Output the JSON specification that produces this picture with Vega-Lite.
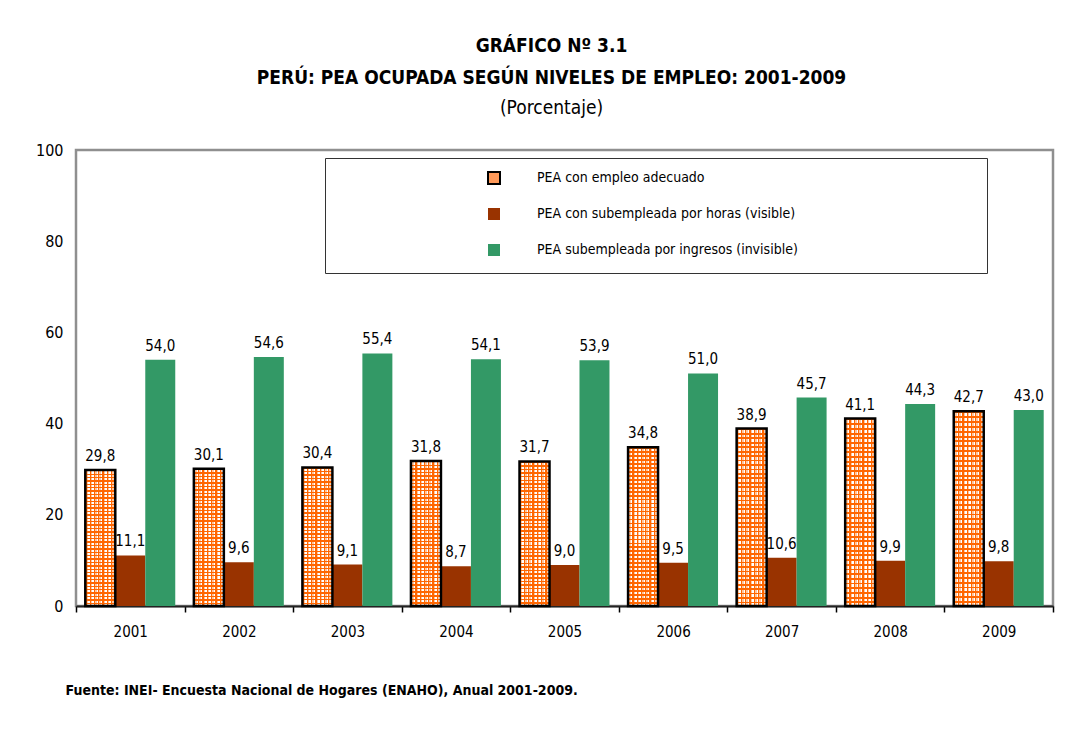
{
  "$schema": "https://vega.github.io/schema/vega-lite/v6.json",
  "width": 977,
  "height": 456,
  "autosize": {"type": "none"},
  "padding": {"left": 76, "top": 150, "right": 22, "bottom": 127},
  "background": "white",
  "config": {
    "font": "Liberation Sans Narrow, DejaVu Sans Condensed, sans-serif",
    "locale": {"number": {"decimal": ",", "thousands": ".", "grouping": [3], "currency": ["", ""]}},
    "view": {"stroke": "#8f8f8f", "strokeWidth": 2.5},
    "axis": {"grid": false}
  },
  "title": {
    "text": ["GRÁFICO Nº 3.1", "PERÚ: PEA OCUPADA SEGÚN NIVELES DE EMPLEO: 2001-2009"],
    "subtitle": "(Porcentaje)",
    "fontSize": 19,
    "fontWeight": "bold",
    "lineHeight": 32,
    "color": "black",
    "subtitleFontSize": 19,
    "subtitleFontWeight": "normal",
    "subtitleColor": "black",
    "subtitlePadding": 11,
    "anchor": "middle",
    "dx": -13,
    "offset": 24
  },
  "data": {
    "values": [
      {"year": "2001", "serie": "PEA con empleo adecuado", "value": 29.8},
      {"year": "2001", "serie": "PEA con subempleada por horas (visible)", "value": 11.1},
      {"year": "2001", "serie": "PEA subempleada por ingresos (invisible)", "value": 54.0},
      {"year": "2002", "serie": "PEA con empleo adecuado", "value": 30.1},
      {"year": "2002", "serie": "PEA con subempleada por horas (visible)", "value": 9.6},
      {"year": "2002", "serie": "PEA subempleada por ingresos (invisible)", "value": 54.6},
      {"year": "2003", "serie": "PEA con empleo adecuado", "value": 30.4},
      {"year": "2003", "serie": "PEA con subempleada por horas (visible)", "value": 9.1},
      {"year": "2003", "serie": "PEA subempleada por ingresos (invisible)", "value": 55.4},
      {"year": "2004", "serie": "PEA con empleo adecuado", "value": 31.8},
      {"year": "2004", "serie": "PEA con subempleada por horas (visible)", "value": 8.7},
      {"year": "2004", "serie": "PEA subempleada por ingresos (invisible)", "value": 54.1},
      {"year": "2005", "serie": "PEA con empleo adecuado", "value": 31.7},
      {"year": "2005", "serie": "PEA con subempleada por horas (visible)", "value": 9.0},
      {"year": "2005", "serie": "PEA subempleada por ingresos (invisible)", "value": 53.9},
      {"year": "2006", "serie": "PEA con empleo adecuado", "value": 34.8},
      {"year": "2006", "serie": "PEA con subempleada por horas (visible)", "value": 9.5},
      {"year": "2006", "serie": "PEA subempleada por ingresos (invisible)", "value": 51.0},
      {"year": "2007", "serie": "PEA con empleo adecuado", "value": 38.9},
      {"year": "2007", "serie": "PEA con subempleada por horas (visible)", "value": 10.6},
      {"year": "2007", "serie": "PEA subempleada por ingresos (invisible)", "value": 45.7},
      {"year": "2008", "serie": "PEA con empleo adecuado", "value": 41.1},
      {"year": "2008", "serie": "PEA con subempleada por horas (visible)", "value": 9.9},
      {"year": "2008", "serie": "PEA subempleada por ingresos (invisible)", "value": 44.3},
      {"year": "2009", "serie": "PEA con empleo adecuado", "value": 42.7},
      {"year": "2009", "serie": "PEA con subempleada por horas (visible)", "value": 9.8},
      {"year": "2009", "serie": "PEA subempleada por ingresos (invisible)", "value": 43.0}
    ]
  },
  "encoding": {
    "x": {
      "field": "year",
      "type": "nominal",
      "scale": {"paddingInner": 0, "paddingOuter": 0},
      "axis": {
        "title": "Fuente: INEI- Encuesta Nacional de Hogares (ENAHO), Anual 2001-2009.",
        "titleFontSize": 14,
        "titleFontWeight": "bold",
        "titleColor": "black",
        "titleAnchor": "start",
        "titleAlign": "left",
        "titleBaseline": "middle",
        "titleX": -11,
        "titleY": 84,
        "labelAngle": 0,
        "labelFontSize": 15,
        "labelColor": "black",
        "labelPadding": 12,
        "tickBand": "extent",
        "tickSize": 6,
        "tickColor": "black",
        "tickWidth": 1.5,
        "domainColor": "#222222",
        "domainWidth": 2
      }
    },
    "xOffset": {
      "field": "serie",
      "type": "nominal",
      "scale": {
        "domain": ["PEA con empleo adecuado", "PEA con subempleada por horas (visible)", "PEA subempleada por ingresos (invisible)"],
        "paddingInner": 0,
        "paddingOuter": 0.31
      }
    },
    "y": {
      "field": "value",
      "type": "quantitative",
      "scale": {"domain": [0, 100]},
      "axis": {
        "title": null,
        "values": [0, 20, 40, 60, 80, 100],
        "ticks": false,
        "domain": false,
        "labelFontSize": 16,
        "labelColor": "black",
        "labelPadding": 13
      }
    }
  },
  "layer": [
    {
      "mark": {"type": "bar"},
      "encoding": {
        "color": {
          "field": "serie",
          "type": "nominal",
          "scale": {
            "domain": ["PEA con empleo adecuado", "PEA con subempleada por horas (visible)", "PEA subempleada por ingresos (invisible)"],
            "range": ["#FF9A5A", "#993300", "#339966"]
          },
          "legend": {
            "orient": "none",
            "legendX": 249,
            "legendY": 8,
            "title": "\u00a0",
            "titleOrient": "right",
            "titleFontSize": 1,
            "titlePadding": 176,
            "padding": 13,
            "strokeColor": "#333333",
            "fillColor": "white",
            "symbolType": "square",
            "symbolSize": 144,
            "symbolOffset": 149,
            "labelFontSize": 14,
            "labelColor": "black",
            "labelOffset": 36,
            "labelLimit": 2000,
            "rowPadding": 16,
            "encode": {
              "symbols": {
                "update": {
                  "stroke": {"signal": "datum.value === 'PEA con empleo adecuado' ? 'black' : 'transparent'"},
                  "strokeWidth": {"value": 2}
                }
              }
            }
          }
        }
      }
    },
    {
      "transform": [{"filter": "datum.serie === 'PEA con empleo adecuado'"}],
      "mark": {
        "type": "bar",
        "fill": {
          "gradient": "linear", "x1": 0, "y1": 0, "x2": 1, "y2": 0,
          "stops": [
            {"offset": 0, "color": "#FF6600"}, {"offset": 0.0429, "color": "#FF6600"}, {"offset": 0.0429, "color": "#FDC6A0"}, {"offset": 0.0929, "color": "#FDC6A0"}, {"offset": 0.0929, "color": "#FFFFFF"}, {"offset": 0.1429, "color": "#FFFFFF"},
            {"offset": 0.1429, "color": "#FF6600"}, {"offset": 0.1857, "color": "#FF6600"}, {"offset": 0.1857, "color": "#FDC6A0"}, {"offset": 0.2357, "color": "#FDC6A0"}, {"offset": 0.2357, "color": "#FFFFFF"}, {"offset": 0.2857, "color": "#FFFFFF"},
            {"offset": 0.2857, "color": "#FF6600"}, {"offset": 0.3286, "color": "#FF6600"}, {"offset": 0.3286, "color": "#FDC6A0"}, {"offset": 0.3786, "color": "#FDC6A0"}, {"offset": 0.3786, "color": "#FFFFFF"}, {"offset": 0.4286, "color": "#FFFFFF"},
            {"offset": 0.4286, "color": "#FF6600"}, {"offset": 0.4714, "color": "#FF6600"}, {"offset": 0.4714, "color": "#FDC6A0"}, {"offset": 0.5214, "color": "#FDC6A0"}, {"offset": 0.5214, "color": "#FFFFFF"}, {"offset": 0.5714, "color": "#FFFFFF"},
            {"offset": 0.5714, "color": "#FF6600"}, {"offset": 0.6143, "color": "#FF6600"}, {"offset": 0.6143, "color": "#FDC6A0"}, {"offset": 0.6643, "color": "#FDC6A0"}, {"offset": 0.6643, "color": "#FFFFFF"}, {"offset": 0.7143, "color": "#FFFFFF"},
            {"offset": 0.7143, "color": "#FF6600"}, {"offset": 0.7571, "color": "#FF6600"}, {"offset": 0.7571, "color": "#FDC6A0"}, {"offset": 0.8071, "color": "#FDC6A0"}, {"offset": 0.8071, "color": "#FFFFFF"}, {"offset": 0.8571, "color": "#FFFFFF"},
            {"offset": 0.8571, "color": "#FF6600"}, {"offset": 0.9, "color": "#FF6600"}, {"offset": 0.9, "color": "#FDC6A0"}, {"offset": 0.95, "color": "#FDC6A0"}, {"offset": 0.95, "color": "#FFFFFF"}, {"offset": 1, "color": "#FFFFFF"}
          ]
        }
      }
    },
    {
      "transform": [{"filter": "datum.serie === 'PEA con empleo adecuado'"}],
      "mark": {
        "type": "bar",
        "stroke": "black",
        "strokeWidth": 2.5,
        "fill": {
          "gradient": "linear", "x1": 0, "y1": 0, "x2": 0, "y2": 1,
          "stops": [
            {"offset": 0, "color": "#FF6600"}, {"offset": 0.01, "color": "#FF6600"}, {"offset": 0.01, "color": "rgba(255,255,255,0)"}, {"offset": 0.025, "color": "rgba(255,255,255,0)"},
            {"offset": 0.025, "color": "#FF6600"}, {"offset": 0.035, "color": "#FF6600"}, {"offset": 0.035, "color": "rgba(255,255,255,0)"}, {"offset": 0.05, "color": "rgba(255,255,255,0)"},
            {"offset": 0.05, "color": "#FF6600"}, {"offset": 0.06, "color": "#FF6600"}, {"offset": 0.06, "color": "rgba(255,255,255,0)"}, {"offset": 0.075, "color": "rgba(255,255,255,0)"},
            {"offset": 0.075, "color": "#FF6600"}, {"offset": 0.085, "color": "#FF6600"}, {"offset": 0.085, "color": "rgba(255,255,255,0)"}, {"offset": 0.1, "color": "rgba(255,255,255,0)"},
            {"offset": 0.1, "color": "#FF6600"}, {"offset": 0.11, "color": "#FF6600"}, {"offset": 0.11, "color": "rgba(255,255,255,0)"}, {"offset": 0.125, "color": "rgba(255,255,255,0)"},
            {"offset": 0.125, "color": "#FF6600"}, {"offset": 0.135, "color": "#FF6600"}, {"offset": 0.135, "color": "rgba(255,255,255,0)"}, {"offset": 0.15, "color": "rgba(255,255,255,0)"},
            {"offset": 0.15, "color": "#FF6600"}, {"offset": 0.16, "color": "#FF6600"}, {"offset": 0.16, "color": "rgba(255,255,255,0)"}, {"offset": 0.175, "color": "rgba(255,255,255,0)"},
            {"offset": 0.175, "color": "#FF6600"}, {"offset": 0.185, "color": "#FF6600"}, {"offset": 0.185, "color": "rgba(255,255,255,0)"}, {"offset": 0.2, "color": "rgba(255,255,255,0)"},
            {"offset": 0.2, "color": "#FF6600"}, {"offset": 0.21, "color": "#FF6600"}, {"offset": 0.21, "color": "rgba(255,255,255,0)"}, {"offset": 0.225, "color": "rgba(255,255,255,0)"},
            {"offset": 0.225, "color": "#FF6600"}, {"offset": 0.235, "color": "#FF6600"}, {"offset": 0.235, "color": "rgba(255,255,255,0)"}, {"offset": 0.25, "color": "rgba(255,255,255,0)"},
            {"offset": 0.25, "color": "#FF6600"}, {"offset": 0.26, "color": "#FF6600"}, {"offset": 0.26, "color": "rgba(255,255,255,0)"}, {"offset": 0.275, "color": "rgba(255,255,255,0)"},
            {"offset": 0.275, "color": "#FF6600"}, {"offset": 0.285, "color": "#FF6600"}, {"offset": 0.285, "color": "rgba(255,255,255,0)"}, {"offset": 0.3, "color": "rgba(255,255,255,0)"},
            {"offset": 0.3, "color": "#FF6600"}, {"offset": 0.31, "color": "#FF6600"}, {"offset": 0.31, "color": "rgba(255,255,255,0)"}, {"offset": 0.325, "color": "rgba(255,255,255,0)"},
            {"offset": 0.325, "color": "#FF6600"}, {"offset": 0.335, "color": "#FF6600"}, {"offset": 0.335, "color": "rgba(255,255,255,0)"}, {"offset": 0.35, "color": "rgba(255,255,255,0)"},
            {"offset": 0.35, "color": "#FF6600"}, {"offset": 0.36, "color": "#FF6600"}, {"offset": 0.36, "color": "rgba(255,255,255,0)"}, {"offset": 0.375, "color": "rgba(255,255,255,0)"},
            {"offset": 0.375, "color": "#FF6600"}, {"offset": 0.385, "color": "#FF6600"}, {"offset": 0.385, "color": "rgba(255,255,255,0)"}, {"offset": 0.4, "color": "rgba(255,255,255,0)"},
            {"offset": 0.4, "color": "#FF6600"}, {"offset": 0.41, "color": "#FF6600"}, {"offset": 0.41, "color": "rgba(255,255,255,0)"}, {"offset": 0.425, "color": "rgba(255,255,255,0)"},
            {"offset": 0.425, "color": "#FF6600"}, {"offset": 0.435, "color": "#FF6600"}, {"offset": 0.435, "color": "rgba(255,255,255,0)"}, {"offset": 0.45, "color": "rgba(255,255,255,0)"},
            {"offset": 0.45, "color": "#FF6600"}, {"offset": 0.46, "color": "#FF6600"}, {"offset": 0.46, "color": "rgba(255,255,255,0)"}, {"offset": 0.475, "color": "rgba(255,255,255,0)"},
            {"offset": 0.475, "color": "#FF6600"}, {"offset": 0.485, "color": "#FF6600"}, {"offset": 0.485, "color": "rgba(255,255,255,0)"}, {"offset": 0.5, "color": "rgba(255,255,255,0)"},
            {"offset": 0.5, "color": "#FF6600"}, {"offset": 0.51, "color": "#FF6600"}, {"offset": 0.51, "color": "rgba(255,255,255,0)"}, {"offset": 0.525, "color": "rgba(255,255,255,0)"},
            {"offset": 0.525, "color": "#FF6600"}, {"offset": 0.535, "color": "#FF6600"}, {"offset": 0.535, "color": "rgba(255,255,255,0)"}, {"offset": 0.55, "color": "rgba(255,255,255,0)"},
            {"offset": 0.55, "color": "#FF6600"}, {"offset": 0.56, "color": "#FF6600"}, {"offset": 0.56, "color": "rgba(255,255,255,0)"}, {"offset": 0.575, "color": "rgba(255,255,255,0)"},
            {"offset": 0.575, "color": "#FF6600"}, {"offset": 0.585, "color": "#FF6600"}, {"offset": 0.585, "color": "rgba(255,255,255,0)"}, {"offset": 0.6, "color": "rgba(255,255,255,0)"},
            {"offset": 0.6, "color": "#FF6600"}, {"offset": 0.61, "color": "#FF6600"}, {"offset": 0.61, "color": "rgba(255,255,255,0)"}, {"offset": 0.625, "color": "rgba(255,255,255,0)"},
            {"offset": 0.625, "color": "#FF6600"}, {"offset": 0.635, "color": "#FF6600"}, {"offset": 0.635, "color": "rgba(255,255,255,0)"}, {"offset": 0.65, "color": "rgba(255,255,255,0)"},
            {"offset": 0.65, "color": "#FF6600"}, {"offset": 0.66, "color": "#FF6600"}, {"offset": 0.66, "color": "rgba(255,255,255,0)"}, {"offset": 0.675, "color": "rgba(255,255,255,0)"},
            {"offset": 0.675, "color": "#FF6600"}, {"offset": 0.685, "color": "#FF6600"}, {"offset": 0.685, "color": "rgba(255,255,255,0)"}, {"offset": 0.7, "color": "rgba(255,255,255,0)"},
            {"offset": 0.7, "color": "#FF6600"}, {"offset": 0.71, "color": "#FF6600"}, {"offset": 0.71, "color": "rgba(255,255,255,0)"}, {"offset": 0.725, "color": "rgba(255,255,255,0)"},
            {"offset": 0.725, "color": "#FF6600"}, {"offset": 0.735, "color": "#FF6600"}, {"offset": 0.735, "color": "rgba(255,255,255,0)"}, {"offset": 0.75, "color": "rgba(255,255,255,0)"},
            {"offset": 0.75, "color": "#FF6600"}, {"offset": 0.76, "color": "#FF6600"}, {"offset": 0.76, "color": "rgba(255,255,255,0)"}, {"offset": 0.775, "color": "rgba(255,255,255,0)"},
            {"offset": 0.775, "color": "#FF6600"}, {"offset": 0.785, "color": "#FF6600"}, {"offset": 0.785, "color": "rgba(255,255,255,0)"}, {"offset": 0.8, "color": "rgba(255,255,255,0)"},
            {"offset": 0.8, "color": "#FF6600"}, {"offset": 0.81, "color": "#FF6600"}, {"offset": 0.81, "color": "rgba(255,255,255,0)"}, {"offset": 0.825, "color": "rgba(255,255,255,0)"},
            {"offset": 0.825, "color": "#FF6600"}, {"offset": 0.835, "color": "#FF6600"}, {"offset": 0.835, "color": "rgba(255,255,255,0)"}, {"offset": 0.85, "color": "rgba(255,255,255,0)"},
            {"offset": 0.85, "color": "#FF6600"}, {"offset": 0.86, "color": "#FF6600"}, {"offset": 0.86, "color": "rgba(255,255,255,0)"}, {"offset": 0.875, "color": "rgba(255,255,255,0)"},
            {"offset": 0.875, "color": "#FF6600"}, {"offset": 0.885, "color": "#FF6600"}, {"offset": 0.885, "color": "rgba(255,255,255,0)"}, {"offset": 0.9, "color": "rgba(255,255,255,0)"},
            {"offset": 0.9, "color": "#FF6600"}, {"offset": 0.91, "color": "#FF6600"}, {"offset": 0.91, "color": "rgba(255,255,255,0)"}, {"offset": 0.925, "color": "rgba(255,255,255,0)"},
            {"offset": 0.925, "color": "#FF6600"}, {"offset": 0.935, "color": "#FF6600"}, {"offset": 0.935, "color": "rgba(255,255,255,0)"}, {"offset": 0.95, "color": "rgba(255,255,255,0)"},
            {"offset": 0.95, "color": "#FF6600"}, {"offset": 0.96, "color": "#FF6600"}, {"offset": 0.96, "color": "rgba(255,255,255,0)"}, {"offset": 0.975, "color": "rgba(255,255,255,0)"},
            {"offset": 0.975, "color": "#FF6600"}, {"offset": 0.985, "color": "#FF6600"}, {"offset": 0.985, "color": "rgba(255,255,255,0)"}, {"offset": 1, "color": "rgba(255,255,255,0)"}
          ]
        }
      }
    },
    {
      "mark": {"type": "text", "baseline": "bottom", "dy": -6, "fontSize": 15, "color": "black"},
      "encoding": {
        "text": {"field": "value", "type": "quantitative", "format": ".1f"}
      }
    }
  ]
}
